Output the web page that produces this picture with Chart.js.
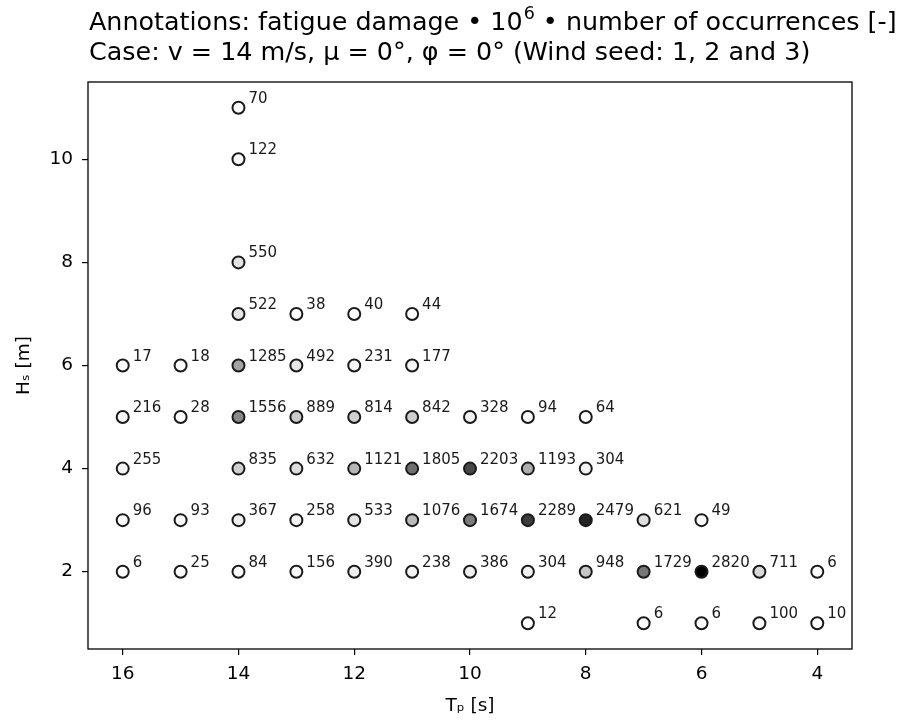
<!DOCTYPE html>
<html>
<head>
<meta charset="utf-8">
<script src="https://cdn.jsdelivr.net/npm/chart.js@4.4.0/dist/chart.umd.min.js"></script>
<style>
  body { margin: 0; background: #fff; }
</style>
</head>
<body>
<canvas id="damage-chart" width="906" height="722"></canvas>
<script>
// Peak period Tp [s] per sea state, one line per Hs row
const tp = [
  14,
  14,
  14,
  14, 13, 12, 11,
  16, 15, 14, 13, 12, 11,
  16, 15, 14, 13, 12, 11, 10, 9, 8,
  16, 14, 13, 12, 11, 10, 9, 8,
  16, 15, 14, 13, 12, 11, 10, 9, 8, 7, 6,
  16, 15, 14, 13, 12, 11, 10, 9, 8, 7, 6, 5, 4,
  9, 7, 6, 5, 4
];

// Significant wave height Hs [m]
const hs = [
  11,
  10,
  8,
  7, 7, 7, 7,
  6, 6, 6, 6, 6, 6,
  5, 5, 5, 5, 5, 5, 5, 5, 5,
  4, 4, 4, 4, 4, 4, 4, 4,
  3, 3, 3, 3, 3, 3, 3, 3, 3, 3, 3,
  2, 2, 2, 2, 2, 2, 2, 2, 2, 2, 2, 2, 2,
  1, 1, 1, 1, 1
];

// fatigue damage * 1e6 * number of occurrences
const damage = [
  70,
  122,
  550,
  522, 38, 40, 44,
  17, 18, 1285, 492, 231, 177,
  216, 28, 1556, 889, 814, 842, 328, 94, 64,
  255, 835, 632, 1121, 1805, 2203, 1193, 304,
  96, 93, 367, 258, 533, 1076, 1674, 2289, 2479, 621, 49,
  6, 25, 84, 156, 390, 238, 386, 304, 948, 1729, 2820, 711, 6,
  12, 6, 6, 100, 10
];

const xTicks = [4, 6, 8, 10, 12, 14, 16];
const yTicks = [2, 4, 6, 8, 10];

const titleLine1 = ['Annotations: fatigue damage \u2022 10', '6', ' \u2022 number of occurrences [-]'];
const titleLine2 = 'Case: v = 14 m/s, \u03bc = 0\u00b0, \u03c6 = 0\u00b0 (Wind seed: 1, 2 and 3)';

const FONT = "'DejaVu Sans', sans-serif";

// matplotlib "Greys" colormap stops
const greys = [255, 240, 217, 189, 150, 115, 82, 37, 0];
const maxDamage = Math.max(...damage);

function greyFor(v) {
    const t = Math.min(Math.max(v / maxDamage, 0), 1) * (greys.length - 1);
    const i = Math.min(Math.floor(t), greys.length - 2);
    const g = Math.round(greys[i] + (greys[i + 1] - greys[i]) * (t - i));
    return `rgb(${g}, ${g}, ${g})`;
}

const points = tp.map((x, i) => ({ x: x, y: hs[i], v: damage[i] }));

// value next to each marker, up and to the right
const pointLabels = {
    id: 'pointLabels',
    afterDatasetsDraw(chart) {
        const ctx = chart.ctx;
        const meta = chart.getDatasetMeta(0);
        ctx.save();
        ctx.font = `15px ${FONT}`;
        ctx.fillStyle = '#1a1a1a';
        ctx.textAlign = 'left';
        ctx.textBaseline = 'alphabetic';
        meta.data.forEach((el, i) => {
            ctx.fillText(String(points[i].v), el.x + 10, el.y - 5);
        });
        ctx.restore();
    }
};

// axes frame and the two-line title above the plot
const frameAndTitle = {
    id: 'frameAndTitle',
    afterDraw(chart) {
        const ctx = chart.ctx;
        const a = chart.chartArea;
        ctx.save();
        ctx.strokeStyle = '#000';
        ctx.lineWidth = 1.3;
        ctx.strokeRect(a.left, a.top, a.right - a.left, a.bottom - a.top);

        ctx.fillStyle = '#000';
        ctx.textBaseline = 'alphabetic';
        ctx.textAlign = 'left';
        let x = a.left + 1;
        ctx.font = `25.4px ${FONT}`;
        ctx.fillText(titleLine1[0], x, 30);
        x += ctx.measureText(titleLine1[0]).width;
        ctx.font = `17.5px ${FONT}`;
        ctx.fillText(titleLine1[1], x + 1, 19);
        x += ctx.measureText(titleLine1[1]).width + 1;
        ctx.font = `25.4px ${FONT}`;
        ctx.fillText(titleLine1[2], x, 30);
        ctx.fillText(titleLine2, a.left + 1, 60);
        ctx.restore();
    }
};

const tickFont = { family: FONT, size: 18.5 };

new Chart(document.getElementById('damage-chart'), {
    type: 'scatter',
    data: {
        datasets: [{
            data: points,
            pointRadius: 6,
            pointHoverRadius: 6,
            pointBorderWidth: 2,
            pointBorderColor: '#1a1a1a',
            pointBackgroundColor: ctx => greyFor(ctx.raw ? ctx.raw.v : 0)
        }]
    },
    options: {
        responsive: false,
        animation: false,
        layout: { padding: { top: 82, right: 54, left: 0, bottom: 0 } },
        plugins: {
            legend: { display: false },
            tooltip: { enabled: false },
            title: { display: false }
        },
        scales: {
            x: {
                type: 'linear',
                reverse: true,
                min: 3.4,
                max: 16.6,
                afterBuildTicks: scale => { scale.ticks = xTicks.map(v => ({ value: v })); },
                afterFit: scale => { scale.height = 73; },
                border: { display: false },
                grid: { drawOnChartArea: false, drawTicks: true, tickLength: 6, color: '#000', lineWidth: 1.2 },
                ticks: { font: tickFont, color: '#000', padding: 8, maxRotation: 0 },
                title: { display: true, text: 'T\u209a [s]', font: tickFont, color: '#000', padding: { top: 0, bottom: 5 } }
            },
            y: {
                type: 'linear',
                min: 0.5,
                max: 11.5,
                afterBuildTicks: scale => { scale.ticks = yTicks.map(v => ({ value: v })); },
                afterFit: scale => { scale.width = 88; },
                border: { display: false },
                grid: { drawOnChartArea: false, drawTicks: true, tickLength: 6, color: '#000', lineWidth: 1.2 },
                ticks: { font: tickFont, color: '#000', padding: 9 },
                title: { display: true, text: 'H\u209b [m]', font: tickFont, color: '#000', padding: { top: 13, bottom: 0 } }
            }
        }
    },
    plugins: [pointLabels, frameAndTitle]
});
</script>
</body>
</html>
